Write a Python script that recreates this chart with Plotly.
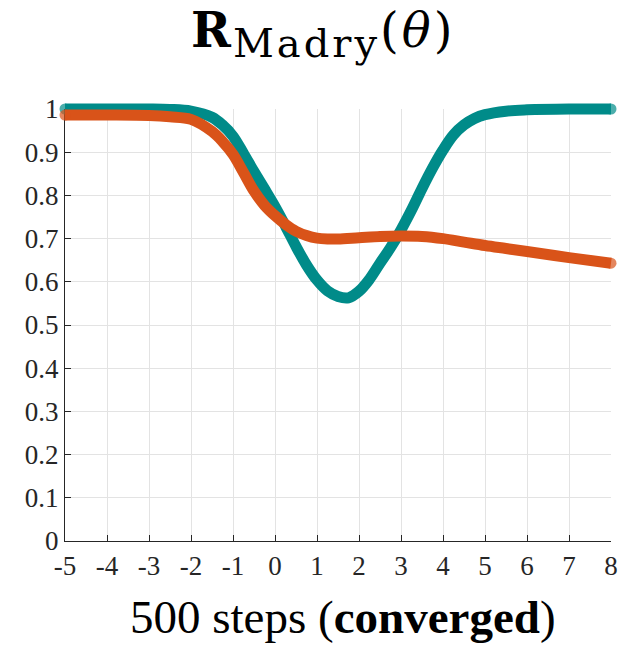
import plotly.graph_objects as go

# ---- data ----
x_teal = [-5, -4, -3, -2.5, -2, -1.5, -1.25, -1, -0.75, -0.5, -0.25, 0, 0.25, 0.5, 0.75, 1, 1.25, 1.5, 1.75,
          2, 2.25, 2.5, 2.75, 3, 3.25, 3.5, 3.75, 4, 4.25, 4.5, 4.75, 5, 5.5, 6, 7, 8]
y_teal = [1.0, 1.0, 1.0, 0.999, 0.995, 0.981, 0.963, 0.937, 0.897, 0.855, 0.815, 0.774, 0.729, 0.682, 0.639, 0.604, 0.579, 0.566, 0.563,
          0.578, 0.606, 0.643, 0.679, 0.720, 0.766, 0.816, 0.863, 0.905, 0.940, 0.963, 0.978, 0.987, 0.995, 0.998, 1.0, 1.0]

x_orange = [-5, -4, -3, -2.5, -2, -1.5, -1.25, -1, -0.75, -0.5, -0.25, 0, 0.25, 0.5, 0.75, 1, 1.25, 1.5,
            2, 2.5, 3, 3.5, 4, 4.5, 5, 5.5, 6, 7, 8]
y_orange = [0.986, 0.986, 0.985, 0.982, 0.976, 0.948, 0.925, 0.895, 0.853, 0.810, 0.777, 0.753, 0.733, 0.717, 0.707, 0.701, 0.699, 0.699,
            0.702, 0.705, 0.706, 0.705, 0.700, 0.692, 0.684, 0.677, 0.670, 0.656, 0.643]

x_ticks = [-5, -4, -3, -2, -1, 0, 1, 2, 3, 4, 5, 6, 7, 8]
y_ticks = [0, 0.1, 0.2, 0.3, 0.4, 0.5, 0.6, 0.7, 0.8, 0.9, 1]
y_tick_text = ["0", "0.1", "0.2", "0.3", "0.4", "0.5", "0.6", "0.7", "0.8", "0.9", "1"]

title_text = ("<span style='letter-spacing:2px'><b>R</b></span>"
              "<sub><span style='font-size:40px;letter-spacing:3px'>Madry</span></sub>"
              "<span style='letter-spacing:3px'>(<i>θ</i>)</span>")
xlabel_text = "500 steps (<b>converged</b>)"

TEAL = "rgb(0,139,137)"
ORANGE = "rgb(217,83,25)"
AX = "#262626"
GRID = "#e3e3e3"
FONT = "Liberation Serif, Times New Roman, serif"
TFONT = "DejaVu Serif, serif"

W, H = 621, 649
# frame (visible axes) in pixels
fx0, fx1, fy_top, fy_bot = 65, 611, 109, 541
# data area (slightly larger so thick lines are not clipped)
dx0, dx1, dy_top, dy_bot = 52, 621, 92, 555

xr = (-5, 8)
yr = (0, 1)
ppx = (fx1 - fx0) / (xr[1] - xr[0])
ppy = (fy_bot - fy_top) / (yr[1] - yr[0])
dxr = [xr[0] - (fx0 - dx0) / ppx, xr[1] + (dx1 - fx1) / ppx]
dyr = [yr[0] - (dy_bot - fy_bot) / ppy, yr[1] + (fy_top - dy_top) / ppy]
dw, dh = dx1 - dx0, dy_bot - dy_top
fdom_x = [(fx0 - dx0) / dw, (fx1 - dx0) / dw]
fdom_y = [(dy_bot - fy_bot) / dh, (dy_bot - fy_top) / dh]

LW = 11

def ends(n):
    return [LW if i in (0, n - 1) else 0 for i in range(n)]

fig = go.Figure()
# invisible trace to create the frame axes
fig.add_trace(go.Scatter(x=[xr[0]], y=[yr[0]], mode="markers", marker=dict(opacity=0),
                         hoverinfo="skip", showlegend=False, xaxis="x", yaxis="y"))
fig.add_trace(go.Scatter(x=x_teal, y=y_teal, mode="lines+markers",
                         line=dict(color=TEAL, width=LW, shape="spline", smoothing=1.0),
                         marker=dict(size=ends(len(x_teal)), color=TEAL, line=dict(width=0)),
                         showlegend=False, xaxis="x2", yaxis="y2", cliponaxis=False))
fig.add_trace(go.Scatter(x=x_orange, y=y_orange, mode="lines+markers",
                         line=dict(color=ORANGE, width=LW, shape="spline", smoothing=1.0),
                         marker=dict(size=ends(len(x_orange)), color=ORANGE, line=dict(width=0)),
                         showlegend=False, xaxis="x2", yaxis="y2", cliponaxis=False))

fig.update_layout(
    template="none",
    width=W, height=H, autosize=False,
    margin=dict(l=dx0, r=W - dx1, t=dy_top, b=H - dy_bot, pad=0, autoexpand=False),
    paper_bgcolor="white", plot_bgcolor="rgba(0,0,0,0)",
    font=dict(family=FONT, color=AX, size=27),
    showlegend=False,
    xaxis=dict(domain=fdom_x, anchor="y", range=list(xr), tickvals=x_ticks, ticktext=[str(v) for v in x_ticks],
               automargin=False,
               showgrid=True, gridcolor=GRID, gridwidth=1, zeroline=False,
               showline=True, linecolor=AX, linewidth=1.3, ticks="inside", ticklen=6, tickcolor=AX,
               tickfont=dict(size=27, family=FONT, color=AX)),
    yaxis=dict(domain=fdom_y, anchor="x", range=list(yr), tickvals=y_ticks, ticktext=y_tick_text,
               automargin=False,
               showgrid=True, gridcolor=GRID, gridwidth=1, zeroline=False,
               showline=True, linecolor=AX, linewidth=1.3, ticks="inside", ticklen=6, tickcolor=AX,
               tickfont=dict(size=27, family=FONT, color=AX)),
    xaxis2=dict(domain=[0, 1], anchor="y2", range=dxr, visible=False, fixedrange=True, automargin=False),
    yaxis2=dict(domain=[0, 1], anchor="x2", range=dyr, visible=False, fixedrange=True, automargin=False),
    annotations=[
        dict(text=title_text, x=323, y=34, xref="paper", yref="paper", showarrow=False,
             font=dict(size=48, family=TFONT, color="black"), xanchor="center", yanchor="middle"),
        dict(text=xlabel_text, x=343, y=617, xref="paper", yref="paper", showarrow=False,
             font=dict(size=47, family=FONT, color="black"), xanchor="center", yanchor="middle"),
    ],
)

# convert annotation pixel positions (from top-left) to paper coords
for a in fig.layout.annotations:
    a.x = (a.x - dx0) / dw
    a.y = ((H - a.y) - (H - dy_bot)) / dh

post = "document.body.style.margin='0px';document.body.style.overflow='hidden';"

fig.write_html("out.html",
               config={"responsive": False, "displayModeBar": False},
               post_script=post)
